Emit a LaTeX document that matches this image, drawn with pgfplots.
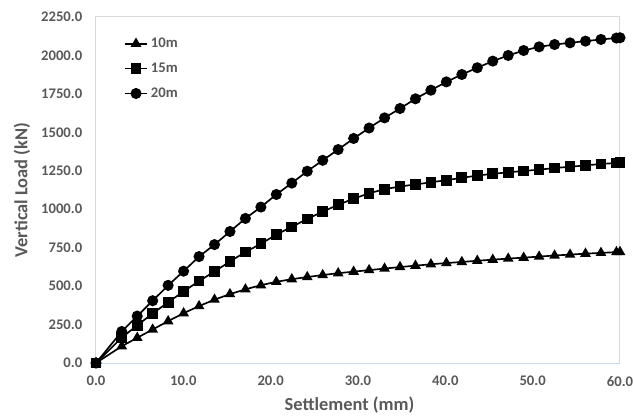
\documentclass[border=0pt]{standalone}
\usepackage{fontspec}
\setmainfont{Carlito}
\usepackage{pgfplots}
\pgfplotsset{compat=1.18}
\usepackage{pgfplotstable}

\definecolor{txt}{HTML}{595959}
\definecolor{frame}{HTML}{D9D9D9}
\definecolor{baseln}{HTML}{C5DBEF}

% settlement (mm) vs vertical load (kN) for the three lengths
\pgfplotstableread{
x      a    b     c
0      0    0     0
2.95   109  165   205
4.72   164  245   305
6.49   218  322   405
8.26   272  395   505
10.03  324  465   597
11.80  370  533   692
13.57  412  595   770
15.34  448  660   855
17.11  479  722   940
18.88  506  775   1014
20.65  528  835   1096
22.42  545  885   1170
24.19  559  937   1247
25.96  572  984   1318
27.73  584  1029  1388
29.50  594  1068  1460
31.27  604  1104  1528
33.04  614  1130  1594
34.81  624  1148  1655
36.58  633  1161  1718
38.35  642  1175  1774
40.12  650  1189  1828
41.89  657  1204  1876
43.66  665  1219  1920
45.43  672  1230  1963
47.20  679  1240  2000
48.97  685  1249  2032
50.74  692  1257  2056
52.51  699  1268  2071
54.28  705  1276  2082
56.05  711  1285  2093
57.82  716  1294  2104
59.59  721  1301  2113
60.00  722  1305  2115
}\loaddata

\begin{document}
\begin{tikzpicture}
\begin{axis}[
    scale only axis,
    width=393pt, height=259.5pt,
    xmin=0, xmax=60, ymin=0, ymax=2250,
    xtick={0,10,...,60},
    ytick={0,250,...,2250},
    major tick length=0pt,
    axis line style={draw=frame, line width=0.75pt},
    clip=false,
    tick label style={font=\bfseries\fontsize{11}{13}\selectfont, text=txt},
    /pgf/number format/assume math mode=true,
    /pgf/number format/fixed,
    /pgf/number format/fixed zerofill,
    /pgf/number format/precision=1,
    /pgf/number format/1000 sep={},
    yticklabel style={xshift=-6.8pt},
    xticklabel style={yshift=-6.5pt},
    xlabel={Settlement (mm)},
    ylabel={Vertical Load (kN)},
    label style={font=\bfseries\fontsize{13.8}{16}\selectfont, text=txt},
    xlabel style={at={(rel axis cs:0.4838,-0.1214)}, anchor=center},
    ylabel style={at={(rel axis cs:-0.1412,0.5)}, anchor=center},
    legend style={draw=none, fill=none, at={(rel axis cs:0.05,0.952)},
        anchor=north west, font=\bfseries\fontsize{11}{13}\selectfont,
        text=txt, row sep=6pt, inner sep=1pt},
    legend cell align=left,
    every axis plot/.append style={black, line width=1.25pt, mark options={solid, fill=black}},
]
\coordinate (bl) at (rel axis cs:0,0);
\coordinate (tr) at (rel axis cs:1,1);
\draw[baseln, line width=0.75pt] (rel axis cs:0,0) -- (rel axis cs:1,0);
\addplot[mark=triangle*, mark size=3.4pt] table[x=x, y=a] {\loaddata};
\addlegendentry{10m}
\addplot[mark=square*, mark size=3.4pt] table[x=x, y=b] {\loaddata};
\addlegendentry{15m}
\addplot[mark=*, mark size=3.5pt] table[x=x, y=c] {\loaddata};
\addlegendentry{20m}
\end{axis}
\pgfresetboundingbox
\path ([shift={(-72pt,-41.25pt)}]bl) rectangle ([shift={(9.75pt,12.75pt)}]tr);
\end{tikzpicture}
\end{document}
